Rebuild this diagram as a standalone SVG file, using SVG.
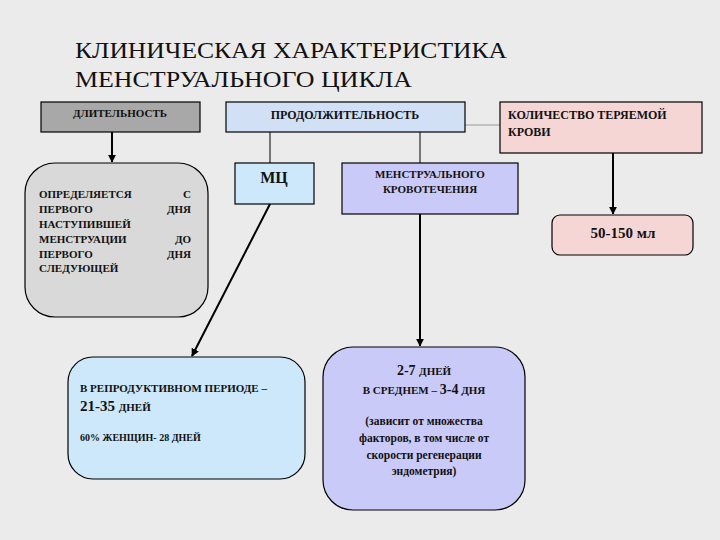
<svg xmlns="http://www.w3.org/2000/svg" width="720" height="540" viewBox="0 0 720 540">
<defs>
<marker id="ah" viewBox="0 0 10 10" refX="9" refY="5" markerWidth="4" markerHeight="4" orient="auto"><path d="M0,0 L10,5 L0,10 z" fill="#000"/></marker>
<style>
text{font-family:"Liberation Serif","DejaVu Serif",serif;font-weight:bold;fill:#111}
.b{stroke:#000;stroke-width:1.2}
.c{stroke:#000;stroke-width:2;fill:none}
.s{font-size:11px}
</style>
</defs>
<rect width="720" height="540" fill="#ebebeb"/>
<g id="title"><text x="75" y="58" font-size="23" style="font-weight:normal" textLength="432" lengthAdjust="spacingAndGlyphs">КЛИНИЧЕСКАЯ ХАРАКТЕРИСТИКА</text><text x="75" y="87" font-size="23" style="font-weight:normal" textLength="337" lengthAdjust="spacingAndGlyphs">МЕНСТРУАЛЬНОГО ЦИКЛА</text></g>
<g id="connectors">
<line class="c" x1="112" y1="132" x2="112" y2="162" marker-end="url(#ah)"/>
<line x1="270" y1="132" x2="270" y2="163" stroke="#000" stroke-width="1"/>
<line x1="420" y1="132" x2="420" y2="163" stroke="#000" stroke-width="1"/>
<line x1="465" y1="125" x2="500" y2="125" stroke="#999" stroke-width="1"/>
<line class="c" x1="613" y1="153" x2="613" y2="214" marker-end="url(#ah)"/>
<line class="c" x1="270" y1="204" x2="192" y2="356" marker-end="url(#ah)"/>
<line class="c" x1="420" y1="214" x2="420" y2="346" marker-end="url(#ah)"/>
</g>
<g id="dlit"><rect class="b" x="41" y="102" width="159" height="30" fill="#a8a8a8"/><text class="s" x="120" y="117" text-anchor="middle">ДЛИТЕЛЬНОСТЬ</text></g>
<g id="prod"><rect class="b" x="226" y="102" width="239" height="30" fill="#d2e0f6"/><text x="345" y="119" text-anchor="middle" font-size="12">ПРОДОЛЖИТЕЛЬНОСТЬ</text></g>
<g id="kol"><rect class="b" x="500" y="102" width="202" height="51" fill="#f6d6d4"/><text x="508" y="119" font-size="12">КОЛИЧЕСТВО ТЕРЯЕМОЙ</text><text x="508" y="136" font-size="12">КРОВИ</text></g>
<g id="opr"><rect class="b" x="25" y="163" width="183" height="154" rx="30" fill="#d9d9d9"/>
<g class="s"><text x="39" y="198">ОПРЕДЕЛЯЕТСЯ</text><text x="191" y="198" text-anchor="end">С</text>
<text x="39" y="213">ПЕРВОГО</text><text x="191" y="213" text-anchor="end">ДНЯ</text>
<text x="39" y="228">НАСТУПИВШЕЙ</text>
<text x="39" y="243">МЕНСТРУАЦИИ</text><text x="191" y="243" text-anchor="end">ДО</text>
<text x="39" y="258">ПЕРВОГО</text><text x="191" y="258" text-anchor="end">ДНЯ</text>
<text x="39" y="272">СЛЕДУЮЩЕЙ</text></g></g>
<g id="mc"><rect class="b" x="235" y="163" width="79" height="41" fill="#cce8fa"/><text x="274" y="183" text-anchor="middle" font-size="16">МЦ</text></g>
<g id="menstr"><rect class="b" x="342" y="163" width="176" height="51" fill="#cacaf8"/><text class="s" x="430" y="178" text-anchor="middle">МЕНСТРУАЛЬНОГО</text><text class="s" x="430" y="193" text-anchor="middle">КРОВОТЕЧЕНИЯ</text></g>
<g id="ml"><rect class="b" x="552" y="215" width="141" height="40" rx="8" fill="#f6d6d4"/><text x="623" y="238" text-anchor="middle" font-size="15">50-150 мл</text></g>
<g id="repr"><rect class="b" x="68" y="357" width="237" height="122" rx="25" fill="#cce8fa"/>
<text class="s" x="80" y="392">В РЕПРОДУКТИВНОМ ПЕРИОДЕ –</text>
<text x="80" y="411" font-size="15">21-35 <tspan font-size="11">ДНЕЙ</tspan></text>
<text x="80" y="441" font-size="10">60% ЖЕНЩИН- 28 ДНЕЙ</text></g>
<g id="days"><rect class="b" x="323" y="347" width="202" height="163" rx="30" fill="#cacaf8"/>
<text x="424" y="375" text-anchor="middle" font-size="14">2-7 <tspan font-size="11">ДНЕЙ</tspan></text>
<text x="424" y="394" text-anchor="middle" font-size="11">В СРЕДНЕМ – <tspan font-size="14">3-4</tspan> ДНЯ</text>
<text x="424" y="425" text-anchor="middle" font-size="11.5">(зависит от множества</text>
<text x="424" y="442" text-anchor="middle" font-size="11.5">факторов, в том числе от</text>
<text x="424" y="459" text-anchor="middle" font-size="11.5">скорости регенерации</text>
<text x="424" y="475" text-anchor="middle" font-size="11.5">эндометрия)</text></g>
</svg>
